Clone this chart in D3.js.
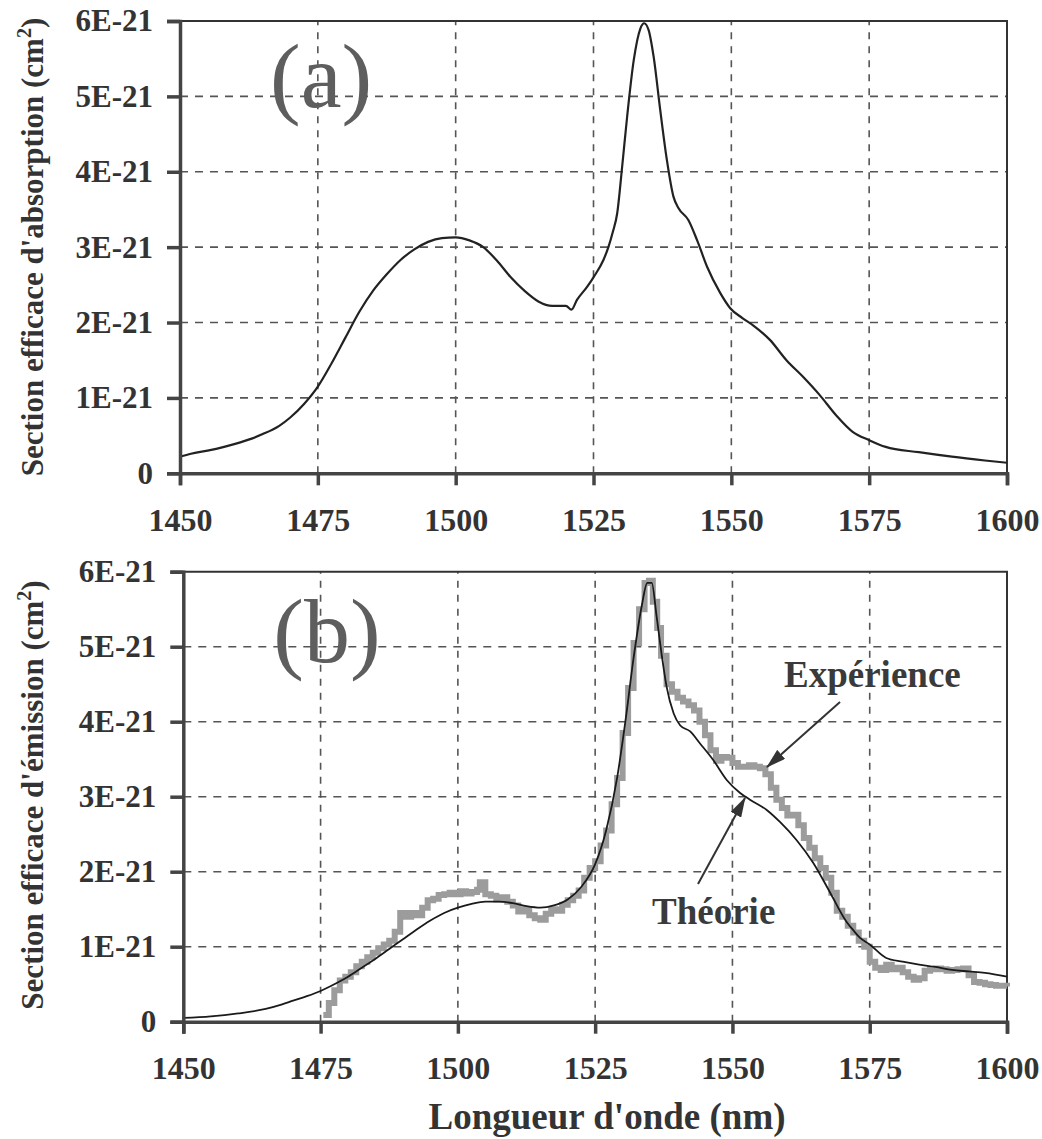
<!DOCTYPE html>
<html><head><meta charset="utf-8">
<script src="https://cdn.jsdelivr.net/npm/d3@7"></script>
<style>body{margin:0;background:#fff}svg{display:block}</style>
</head><body>
<svg id="chart" width="1042" height="1139"></svg>
<script>
// ---------- DATA ----------
const xTicks = [1450, 1475, 1500, 1525, 1550, 1575, 1600];
const xTickLabels = ["1450", "1475", "1500", "1525", "1550", "1575", "1600"];
const yTicks = [0, 1, 2, 3, 4, 5, 6];
const yTickLabels = ["0", "1E-21", "2E-21", "3E-21", "4E-21", "5E-21", "6E-21"];

// Panel (a): absorption cross-section (units of 1E-21 cm2)
const absWl = [1450,1452,1455,1458,1460,1463,1465,1468,1470,1472.5,1475,1477.5,1480,1482.5,1485,1487.5,1490,1492.5,1495,1497.5,1500,1502.5,1505,1507.5,1510,1512.5,1515,1517.5,1520,1521,1522,1523.8,1525,1526.8,1527.7,1528.5,1529.3,1530.2,1531.1,1532.3,1533.5,1534.2,1535,1535.9,1537.1,1538.3,1539.5,1540.4,1542.2,1543.8,1545.6,1548,1549.8,1552,1554,1557,1560,1563,1566,1569,1572,1575,1578,1584,1590,1596,1600];
const absVal = [0.22,0.26,0.30,0.35,0.39,0.46,0.52,0.63,0.74,0.92,1.15,1.46,1.80,2.14,2.42,2.64,2.83,2.97,3.07,3.12,3.13,3.09,3.00,2.82,2.60,2.42,2.28,2.22,2.22,2.17,2.30,2.47,2.60,2.83,3.00,3.20,3.45,4.07,4.73,5.48,5.90,5.97,5.88,5.53,4.82,4.16,3.67,3.52,3.36,3.09,2.74,2.39,2.19,2.06,1.96,1.77,1.50,1.28,1.04,0.77,0.55,0.44,0.35,0.28,0.22,0.17,0.14];

// Panel (b): emission cross-section, theory (units of 1E-21 cm2)
const theoWl = [1450,1455,1460,1465,1468,1470,1472.5,1475,1477.5,1480,1482.5,1485,1487.5,1490,1492.5,1495,1497.5,1500,1502.5,1505,1507.5,1510,1512.5,1515,1517.5,1520,1522.5,1525,1527,1529,1530.5,1532,1533.5,1534.5,1535.3,1536.2,1537.1,1538,1539.3,1540.5,1542.3,1544.1,1546.5,1549,1551.4,1553.2,1556.3,1558.7,1561.7,1564.7,1567.8,1570.8,1572,1573.2,1575,1578,1581,1584,1587,1590,1593,1596,1600];
const theoVal = [0.05,0.07,0.11,0.17,0.23,0.28,0.34,0.41,0.50,0.60,0.72,0.84,0.97,1.10,1.23,1.35,1.45,1.52,1.57,1.60,1.60,1.58,1.54,1.52,1.55,1.63,1.80,2.10,2.55,3.25,4.00,4.85,5.55,5.85,5.85,5.40,4.90,4.47,4.11,3.95,3.87,3.71,3.49,3.22,3.05,2.96,2.82,2.66,2.42,2.12,1.72,1.33,1.22,1.12,1.03,0.85,0.80,0.76,0.73,0.69,0.67,0.65,0.60];

// Panel (b): emission cross-section, experiment (units of 1E-21 cm2)
const expWl = [1475.5,1476.5,1477.5,1478.5,1479.5,1480.5,1481.5,1482.5,1483.5,1484.5,1485.5,1486.5,1487.5,1488.5,1489.5,1490.5,1491.5,1492.5,1493.5,1494.5,1495.5,1496.5,1497.5,1498.5,1499.5,1500.5,1501.5,1502.5,1503.5,1504,1505,1506,1507,1508,1509,1510,1511,1512,1513,1514,1515,1516,1517,1518,1519,1520,1521,1522,1523,1524,1525,1526,1527,1528,1529,1530,1531,1532,1533,1534,1534.8,1535.5,1536.3,1537,1538,1539,1540,1541,1542,1543,1544,1545,1546,1547,1548,1549,1550,1551,1552,1553,1554,1555,1556,1557,1558,1559,1560,1561,1562,1563,1564,1565,1566,1567,1568,1569,1570,1571,1572,1573,1574,1575,1576,1577,1578,1579,1580,1581,1582,1583,1584,1585,1586,1587,1588,1589,1590,1591,1592,1593,1594,1595,1596,1597,1598,1599,1600];
const expVal = [0.09,0.25,0.42,0.55,0.60,0.66,0.74,0.80,0.86,0.92,0.98,1.03,1.08,1.20,1.45,1.40,1.45,1.42,1.52,1.62,1.64,1.69,1.70,1.72,1.70,1.74,1.71,1.73,1.76,1.86,1.70,1.68,1.63,1.66,1.60,1.55,1.47,1.50,1.42,1.38,1.36,1.44,1.50,1.48,1.56,1.62,1.68,1.75,1.92,2.05,2.14,2.35,2.55,2.90,3.25,3.85,4.45,5.05,5.50,5.85,5.88,5.60,5.25,4.88,4.50,4.40,4.32,4.27,4.22,4.15,4.00,3.82,3.62,3.48,3.53,3.52,3.45,3.40,3.40,3.42,3.40,3.38,3.30,3.12,2.96,2.85,2.75,2.76,2.62,2.45,2.32,2.18,2.05,1.92,1.72,1.48,1.40,1.28,1.19,1.08,1.00,0.80,0.72,0.69,0.76,0.70,0.72,0.66,0.60,0.56,0.58,0.68,0.70,0.71,0.70,0.68,0.69,0.70,0.71,0.62,0.53,0.52,0.50,0.49,0.48,0.48,0.47];

// ---------- DRAWING ----------
const svg = d3.select("#chart");
const FONT = "'Liberation Serif','Times New Roman',serif";
const INK = "#333";

svg.append("defs").append("marker")
  .attr("id", "arrow").attr("markerUnits", "userSpaceOnUse")
  .attr("viewBox", "0 0 20 12").attr("refX", 19).attr("refY", 6)
  .attr("markerWidth", 20).attr("markerHeight", 12).attr("orient", "auto")
  .append("path").attr("d", "M0,0 L20,6 L0,12 Z").attr("fill", INK);

function panel(cfg) {
  const x = d3.scaleLinear().domain([1450, 1600]).range([cfg.x0, cfg.x1]);
  const y = d3.scaleLinear().domain([0, 6]).range([cfg.y0, cfg.y1]);
  const g = svg.append("g");

  // grid
  g.selectAll(".hg").data(yTicks.slice(1, -1)).join("line")
    .attr("x1", cfg.x0).attr("x2", cfg.x1)
    .attr("y1", d => y(d)).attr("y2", d => y(d))
    .attr("stroke", "#555").attr("stroke-width", 1.6).attr("stroke-dasharray", "8,7");
  g.selectAll(".vg").data(xTicks.slice(1, -1)).join("line")
    .attr("x1", d => x(d)).attr("x2", d => x(d))
    .attr("y1", cfg.y0).attr("y2", cfg.y1)
    .attr("stroke", "#555").attr("stroke-width", 1.6).attr("stroke-dasharray", "7,7");

  // frame top/right
  g.append("path")
    .attr("d", `M${cfg.x0},${cfg.y1} H${cfg.x1} V${cfg.y0}`)
    .attr("fill", "none").attr("stroke", INK).attr("stroke-width", 2);

  // series
  cfg.series(g, x, y);

  // axes
  const ya = g.append("g").attr("transform", `translate(${cfg.x0},0)`)
    .call(d3.axisLeft(y).tickValues(yTicks).tickFormat((d, i) => yTickLabels[i]).tickSize(13).tickPadding(14));
  const xa = g.append("g").attr("transform", `translate(0,${cfg.y0})`)
    .call(d3.axisBottom(x).tickValues(xTicks).tickFormat((d, i) => xTickLabels[i]).tickSize(12).tickPadding(23));
  [ya, xa].forEach(a => {
    a.select(".domain").attr("stroke", "#444").attr("stroke-width", 3.5);
    a.selectAll(".tick line").attr("stroke", "#444").attr("stroke-width", 3.5);
    a.selectAll("text").attr("fill", INK).attr("font-family", FONT)
      .attr("font-weight", "bold");
  });
  ya.selectAll("text").attr("font-size", 31);
  xa.selectAll("text").attr("font-size", 32);

  // y-axis title
  const t = g.append("text")
    .attr("transform", `translate(43,${cfg.titleY}) rotate(-90)`)
    .attr("text-anchor", "middle").attr("font-family", FONT).attr("font-weight", "bold")
    .attr("font-size", 31).attr("fill", INK);
  t.append("tspan").text(cfg.title + " (cm");
  t.append("tspan").attr("font-size", 20).attr("dy", -12).text("2");
  t.append("tspan").attr("dy", 12).text(")");

  // panel letter
  g.append("text").attr("x", cfg.x0 + 90).attr("y", cfg.letterY)
    .attr("font-family", FONT).attr("font-size", 92).attr("fill", "#5e5e5e")
    .text(cfg.letter);
  return {x, y, g};
}

panel({
  x0: 180, x1: 1007, y0: 473.3, y1: 21, titleY: 247, letterY: 107,
  title: "Section efficace d'absorption", letter: "(a)",
  series: (g, x, y) => {
    const pts = absWl.map((w, i) => [w, absVal[i]]);
    g.append("path").datum(pts)
      .attr("d", d3.line().x(d => x(d[0])).y(d => y(d[1])).curve(d3.curveMonotoneX))
      .attr("fill", "none").attr("stroke", "#222").attr("stroke-width", 2.2);
  }
});

panel({
  x0: 183.3, x1: 1007, y0: 1021.7, y1: 571.7, titleY: 795, letterY: 662,
  title: "Section efficace d'émission", letter: "(b)",
  series: (g, x, y) => {
    const ep = expWl.map((w, i) => [w, expVal[i]]);
    const tp = theoWl.map((w, i) => [w, theoVal[i]]);
    g.append("path").datum(ep)
      .attr("d", d3.line().x(d => x(d[0])).y(d => y(d[1])).curve(d3.curveStepAfter))
      .attr("fill", "none").attr("stroke", "#9c9c9c").attr("stroke-width", 6)
      .attr("stroke-linejoin", "miter");
    g.append("path").datum(tp)
      .attr("d", d3.line().x(d => x(d[0])).y(d => y(d[1])).curve(d3.curveMonotoneX))
      .attr("fill", "none").attr("stroke", "#1a1a1a").attr("stroke-width", 1.8);
  }
});

// annotations (panel b)
const ann = svg.append("g").attr("font-family", FONT).attr("font-weight", "bold")
  .attr("font-size", 37).attr("fill", "#3a3a3a");
ann.append("text").attr("x", 784).attr("y", 687).text("Expérience");
ann.append("text").attr("x", 652).attr("y", 924).text("Théorie");
svg.append("line").attr("x1", 840).attr("y1", 702).attr("x2", 767).attr("y2", 767)
  .attr("stroke", INK).attr("stroke-width", 2).attr("marker-end", "url(#arrow)");
svg.append("line").attr("x1", 698).attr("y1", 884).attr("x2", 745).attr("y2", 798)
  .attr("stroke", INK).attr("stroke-width", 2).attr("marker-end", "url(#arrow)");

// x-axis title
svg.append("text").attr("x", 607).attr("y", 1129).attr("text-anchor", "middle")
  .attr("font-family", FONT).attr("font-weight", "bold").attr("font-size", 37)
  .attr("fill", INK).text("Longueur d'onde (nm)");
</script>
</body></html>
